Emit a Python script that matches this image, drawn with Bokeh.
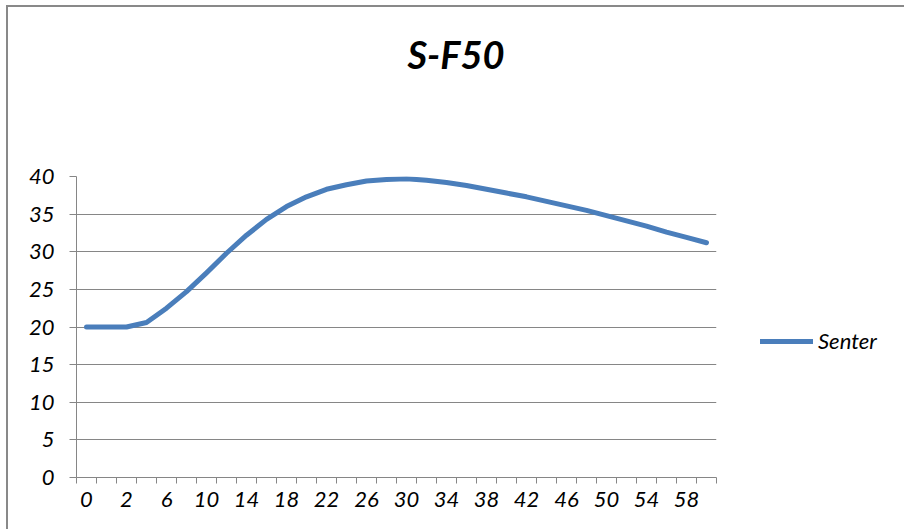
from bokeh.plotting import figure
from bokeh.models import FixedTicker, Legend, LegendItem, ColumnDataSource, Range1d, Title
from bokeh.embed import file_html
from bokeh.resources import INLINE

title_text = "S-F50"
series_name = "Senter"
categories = ["0", "1", "2"] + [str(v) for v in range(4, 61, 2)]
values = [20.0, 20.0, 20.0, 20.6, 22.5, 24.7, 27.2, 29.8, 32.2, 34.3, 36.0, 37.3,
          38.3, 38.9, 39.4, 39.6, 39.7, 39.5, 39.2, 38.8, 38.3, 37.8, 37.3, 36.7,
          36.1, 35.5, 34.8, 34.1, 33.4, 32.6, 31.9, 31.2]
y_ticks = [0, 5, 10, 15, 20, 25, 30, 35, 40]

FONT = "Lato"
GRID = "#868686"

n = len(categories)
src = ColumnDataSource(dict(x=list(range(n)), y=values, cat=categories))

p = figure(frame_width=640, frame_height=301, output_backend="svg", toolbar_location=None,
           x_range=Range1d(-0.5, n - 0.5), y_range=Range1d(0, 40),
           min_border_left=68, min_border_right=186, min_border_top=169,
           min_border_bottom=52)
p.title = None
p.styles = {"margin-left": "6px", "margin-top": "5px",
            "border-top": "2px solid #898989", "border-left": "2px solid #898989"}
p.outline_line_color = None
p.background_fill_color = "white"
p.border_fill_color = "white"

# invisible spacer between frame and title (innermost), then the title above it
p.add_layout(Title(text=" ", standoff=82, text_font_size="10px",
                   text_color="white"), "above")
p.add_layout(Title(text=title_text, align="left", offset=331, standoff=10,
                   text_font=FONT, text_font_style="bold italic",
                   text_font_size="38px", text_color="black"), "above")

p.xgrid.visible = False
p.ygrid.grid_line_color = GRID
p.ygrid.grid_line_width = 1
p.ygrid.ticker = FixedTicker(ticks=y_ticks)

# y axis
ya = p.yaxis[0]
ya.ticker = FixedTicker(ticks=y_ticks)
ya.axis_line_color = GRID
ya.major_tick_line_color = GRID
ya.major_tick_out = 7
ya.major_tick_in = 0
ya.minor_tick_line_color = None
ya.major_label_standoff = 15
ya.major_label_text_font = FONT
ya.major_label_text_font_style = "italic"
ya.major_label_text_font_size = "22px"
ya.major_label_text_color = "black"

# x axis (category style)
xa = p.xaxis[0]
label_idx = list(range(0, n, 2))
xa.ticker = FixedTicker(ticks=label_idx, minor_ticks=[k - 0.5 for k in range(n + 1)])
xa.major_label_overrides = {i: categories[i] for i in label_idx}
xa.axis_line_color = GRID
xa.major_tick_line_color = None
xa.major_tick_out = 6
xa.major_tick_in = 0
xa.minor_tick_line_color = GRID
xa.minor_tick_out = 6
xa.minor_tick_in = 0
xa.major_label_standoff = 8
xa.major_label_text_font = FONT
xa.major_label_text_font_style = "italic"
xa.major_label_text_font_size = "22px"
xa.major_label_text_color = "black"

r = p.line("x", "y", source=src, line_width=5, line_color="#4A7EBB",
           line_cap="round", line_join="round")

legend = Legend(items=[LegendItem(label=series_name, renderers=[r])],
                location=(44, 123), padding=0, margin=0, spacing=0,
                glyph_width=53, glyph_height=20, label_standoff=5,
                border_line_color=None, background_fill_alpha=0,
                label_text_font=FONT, label_text_font_style="italic",
                label_text_font_size="22px", label_text_color="black")
p.add_layout(legend, "right")

open("out.html", "w").write(file_html(p, INLINE))
